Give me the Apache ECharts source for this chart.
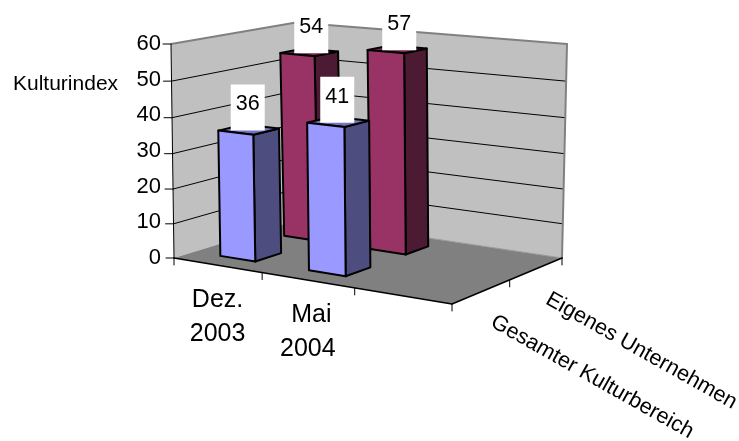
<!DOCTYPE html>
<html>
<head>
<meta charset="utf-8">
<style>html,body{margin:0;padding:0;background:#fff}#c{width:739px;height:441px}</style>
<script src="https://cdn.jsdelivr.net/npm/echarts@6/dist/echarts.min.js"></script>
</head>
<body>
<div id="c"></div>
<script>
// Values per period and per depth row
var categories = ['Dez.\n2003', ' Mai\n2004', ''];
var depthNames = ['Gesamter Kulturbereich', 'Eigenes Unternehmen'];
var gesamt = [36, 41, null];
var eigenes = [54, 57, null];
var yMax = 60, yStep = 10;
var yTitle = 'Kulturindex';

// Perspective box: pixel corners of the floor and ceiling planes
var FLOOR = [[174, 258], [452, 304], [562, 258], [301, 219]];
var CEIL = [[171, 44], [455, 70], [567, 44], [296, 22.5]];
var FAMILY = '"Liberation Sans", Arial, sans-serif';
var LINE = '#000';
var BAR_WIDTH = 0.4, BAR_DEPTH = 0.4;   // share of the slot, gap 150%

// Unit square to quad homography
function quadMap(q) {
  var x0 = q[0][0], y0 = q[0][1], x1 = q[1][0], y1 = q[1][1];
  var x2 = q[2][0], y2 = q[2][1], x3 = q[3][0], y3 = q[3][1];
  var dx1 = x1 - x2, dx2 = x3 - x2, sx = x0 - x1 + x2 - x3;
  var dy1 = y1 - y2, dy2 = y3 - y2, sy = y0 - y1 + y2 - y3;
  var den = dx1 * dy2 - dx2 * dy1;
  var g = (sx * dy2 - dx2 * sy) / den, h = (dx1 * sy - sx * dy1) / den;
  var a = x1 - x0 + g * x1, b = x3 - x0 + h * x3;
  var d = y1 - y0 + g * y1, e = y3 - y0 + h * y3;
  return function (u, w) {
    var k = g * u + h * w + 1;
    return [(a * u + b * w + x0) / k, (d * u + e * w + y0) / k];
  };
}
var floorAt = quadMap(FLOOR), ceilAt = quadMap(CEIL);

// u along periods, w into depth, t share of the value axis
function project(u, w, t) {
  var f = floorAt(u, w), c = ceilAt(u, w);
  var s = t - 0.05 * t * (1 - t);
  return [f[0] + (c[0] - f[0]) * s, f[1] + (c[1] - f[1]) * s];
}
function poly(points, fill) {
  return { type: 'polygon', shape: { points: points }, style: { fill: fill, stroke: null } };
}
function line(a, b, color, width) {
  return { type: 'line', shape: { x1: a[0], y1: a[1], x2: b[0], y2: b[1] },
    style: { stroke: color, lineWidth: width, lineCap: 'round', fill: null } };
}
function text(str, x, y, opt) {
  opt = opt || {};
  return { type: 'text', x: x, y: y, rotation: opt.rotation || 0,
    style: { text: str, font: (opt.size || 21.5) + 'px ' + FAMILY, fill: '#000',
      lineHeight: opt.lineHeight || 24, align: opt.align || 'center', verticalAlign: 'middle' } };
}

// Walls, floor, grid lines, ticks and axis captions
function renderFrame(params, api) {
  var kids = [];
  var A = project(0, 0, 0), B = project(1, 0, 0), C = project(1, 1, 0), E = project(0, 1, 0);
  var G = project(0, 0, 1), D = project(1, 1, 1), F = project(0, 1, 1);
  kids.push(poly([A, E, F, G], '#C0C0C0'));
  kids.push(poly([E, C, D, F], '#C0C0C0'));
  kids.push(poly([A, B, C, E], '#808080'));
  for (var v = yStep; v < yMax; v += yStep) {
    var t = v / yMax;
    var p0 = project(0, 0, t), p1 = project(0, 1, t), p2 = project(1, 1, t);
    kids.push(line(p0, p1, LINE, 1), line(p1, p2, LINE, 1));
  }
  for (var v2 = 0; v2 <= yMax; v2 += yStep) {
    var p = project(0, 0, v2 / yMax);
    kids.push(line([p[0] - 8, p[1]], p, LINE, 1));
  }
  kids.push(line(G, F, '#808080', 2), line(F, D, '#808080', 2), line(D, C, '#808080', 2));
  kids.push(line(E, C, '#9a9a9a', 1));
  kids.push(line(A, G, LINE, 1), line(A, B, LINE, 1.5), line(B, C, LINE, 1.5));
  var n = categories.length;
  for (var i = 0; i <= n; i++) {
    var q = project(i / n, 0, 0);
    kids.push(line(q, [q[0], q[1] + 7], LINE, 1));
  }
  for (var j = 1; j <= depthNames.length; j++) {
    var r = project(1, j / depthNames.length, 0);
    kids.push(line(r, [r[0], r[1] + 7], LINE, 1));
  }
  categories.forEach(function (name, k) {
    var c = project((k + 0.5) / n, 0, 0);
    kids.push(text(name, c[0], c[1] + 52, { lineHeight: 34, size: 25 }));
  });
  depthNames.forEach(function (name, k) {
    var d = project(1, (k + 0.5) / depthNames.length, 0);
    kids.push(text(name, d[0] + 11, d[1] + 29, { rotation: -29.5 * Math.PI / 180, align: 'left', size: 21.7 }));
  });
  return { type: 'group', children: kids };
}

function barBox(params, api, row) {
  var sys = params.coordSys;
  var pos = api.coord([api.value(0), api.value(1)]);
  var band = api.size([1, 0])[0];
  var t = (sys.y + sys.height - pos[1]) / sys.height;
  var uMid = (pos[0] - sys.x) / sys.width;
  var uHalf = band * BAR_WIDTH / 2 / sys.width;
  var slot = 1 / depthNames.length;
  var wMid = (row + 0.5) * slot, wHalf = slot * BAR_DEPTH / 2;
  return { t: t, u0: uMid - uHalf, u1: uMid + uHalf, uMid: uMid,
    w0: wMid - wHalf, w1: wMid + wHalf, wMid: wMid };
}

// One 3D column: front, side and top faces with dark outlines
function barRenderer(row, front, side, top) {
  return function (params, api) {
    var b = barBox(params, api, row);
    var a0 = project(b.u0, b.w0, 0), a1 = project(b.u1, b.w0, 0), a2 = project(b.u1, b.w1, 0);
    var c0 = project(b.u0, b.w0, b.t), c1 = project(b.u1, b.w0, b.t);
    var c2 = project(b.u1, b.w1, b.t), c3 = project(b.u0, b.w1, b.t);
    var face = function (pts, fill) {
      return { type: 'polygon', shape: { points: pts },
        style: { fill: fill, stroke: '#000', lineWidth: 2, lineJoin: 'round' } };
    };
    return { type: 'group', children: [
      face([a1, a2, c2, c1], side),
      face([c0, c1, c2, c3], top),
      face([a0, a1, c1, c0], front)
    ] };
  };
}

// White value tag standing on the centre of each column's top
function labelRenderer(row) {
  return function (params, api) {
    var b = barBox(params, api, row);
    var c = project(b.uMid, b.wMid, b.t);
    var x = c[0] + (row ? 2 : -1);
    return { type: 'group', children: [
      { type: 'rect', shape: { x: x - 17, y: c[1] - 45, width: 34, height: 46 },
        style: { fill: '#fff', stroke: null } },
      text(String(api.value(1)), x, c[1] - 25)
    ] };
  };
}

function rows(values) {
  var out = [];
  values.forEach(function (v, i) { if (v !== null) out.push([i, v]); });
  return out;
}
function custom(render, data, z) {
  return { type: 'custom', coordinateSystem: 'cartesian2d', renderItem: render,
    data: data, z: z, clip: false, silent: true, animation: false,
    encode: { x: 0, y: 1 } };
}

var chart = echarts.init(document.getElementById('c'), null, { renderer: 'canvas' });
chart.setOption({
  animation: false,
  backgroundColor: '#fff',
  grid: { left: 174, top: 44, width: 278, height: 214, containLabel: false },
  xAxis: { type: 'category', data: categories, show: false },
  yAxis: { type: 'value', min: 0, max: yMax, interval: yStep,
    axisLine: { show: false }, axisTick: { show: false }, splitLine: { show: false },
    axisLabel: { margin: 13, fontSize: 22, color: '#000', fontFamily: FAMILY } },
  graphic: [{ type: 'text', left: 13, top: 74, z: 20,
    style: { text: yTitle, font: '21px ' + FAMILY, fill: '#000' } }],
  series: [
    custom(renderFrame, [[0, 0]], 1),
    custom(barRenderer(1, '#993366', '#4D1A33', '#732645'), rows(eigenes), 2),
    custom(barRenderer(0, '#9999FF', '#4D4D80', '#7373BF'), rows(gesamt), 3),
    custom(labelRenderer(0), rows(gesamt), 4),
    custom(labelRenderer(1), rows(eigenes), 4)
  ]
});
</script>
</body>
</html>
